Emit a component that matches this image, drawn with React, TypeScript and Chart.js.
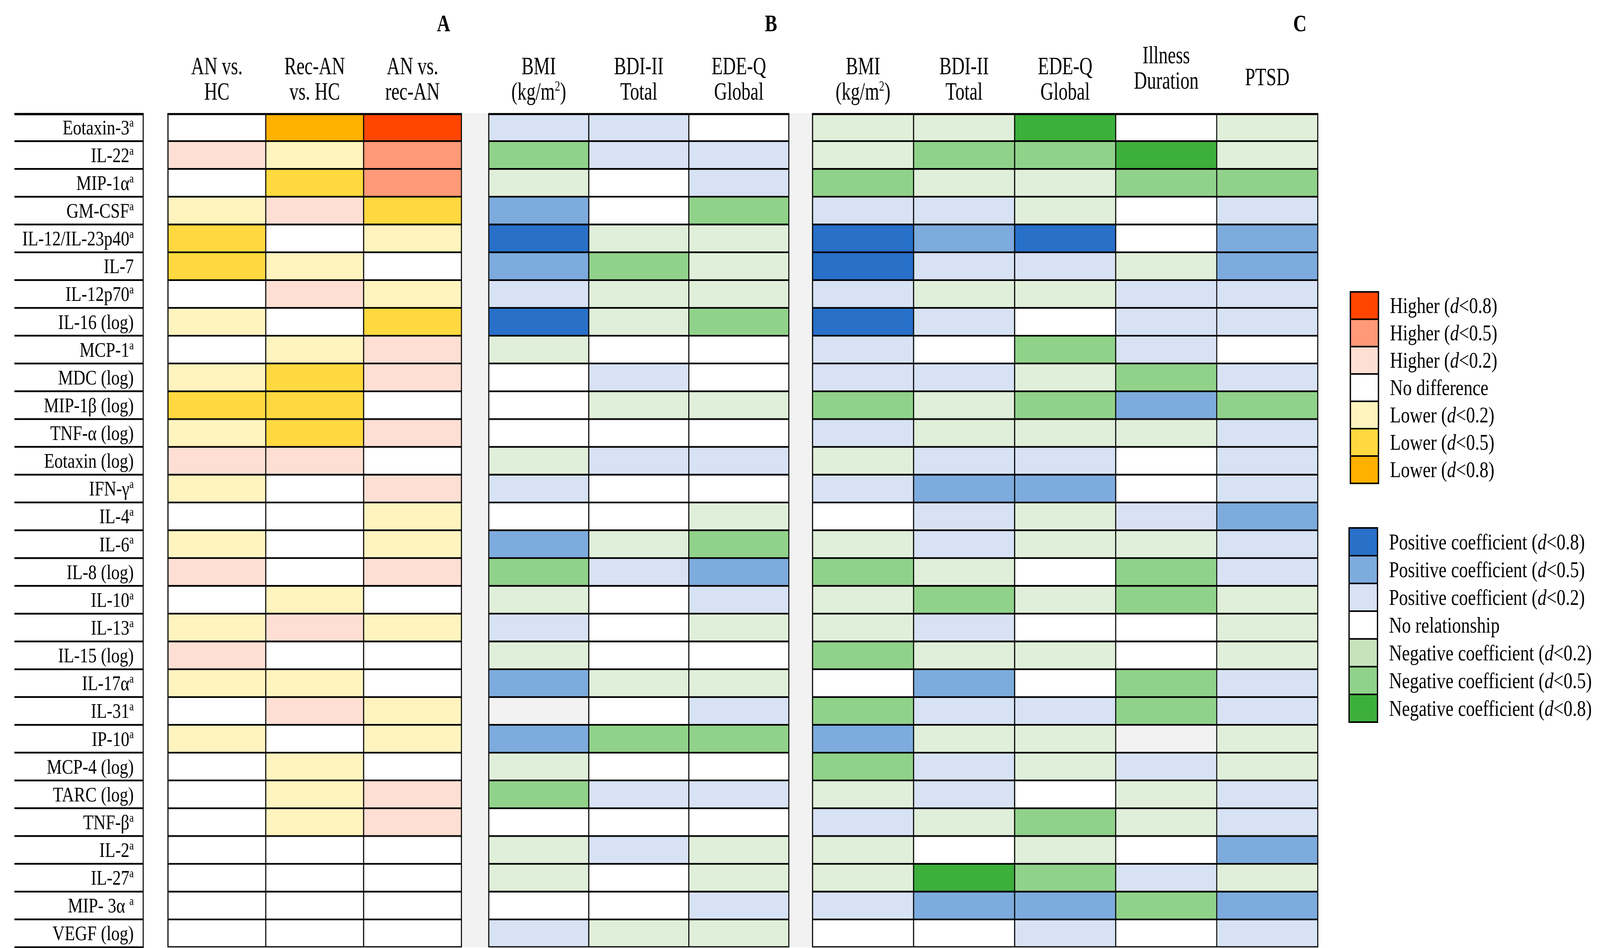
import React, { useEffect, useRef, useState } from "react";
import { Chart, registerables } from "chart.js";

Chart.register(...registerables);

// ---------- DATA ----------
const rowLabels = [
  "Eotaxin-3^a", "IL-22^a", "MIP-1α^a", "GM-CSF^a", "IL-12/IL-23p40^a", "IL-7", "IL-12p70^a",
  "IL-16 (log)", "MCP-1^a", "MDC (log)", "MIP-1β (log)", "TNF-α (log)", "Eotaxin (log)", "IFN-γ^a",
  "IL-4^a", "IL-6^a", "IL-8 (log)", "IL-10^a", "IL-13^a", "IL-15 (log)", "IL-17α^a", "IL-31^a",
  "IP-10^a", "MCP-4 (log)", "TARC (log)", "TNF-β^a", "IL-2^a", "IL-27^a", "MIP- 3α ^a", "VEGF (log)",
];

const panelLetters = ["A", "B", "C"];

const headersA = ["AN vs.\nHC", "Rec-AN\nvs. HC", "AN vs.\nrec-AN"];
const headersB = ["BMI\n(kg/m^2)", "BDI-II\nTotal", "EDE-Q\nGlobal"];
const headersC = ["BMI\n(kg/m^2)", "BDI-II\nTotal", "EDE-Q\nGlobal", "Illness\nDuration", "PTSD"];

// Panel A: group differences. 3/2/1 = Higher (d<0.8/0.5/0.2), 0 = none, -1/-2/-3 = Lower (d<0.2/0.5/0.8)
const anVsHc = [0, 1, 0, -1, -2, -2, 0, -1, 0, -1, -2, -1, 1, -1, 0, -1, 1, 0, -1, 1, -1, 0, -1, 0, 0, 0, 0, 0, 0, 0];
const recAnVsHc = [-3, -1, -2, 1, 0, -1, 1, 0, -1, -2, -2, -2, 1, 0, 0, 0, 0, -1, 1, 0, -1, 1, 0, -1, -1, -1, 0, 0, 0, 0];
const anVsRecAn = [3, 2, 2, -2, -1, 0, -1, -2, 1, 1, 0, 1, 0, 1, -1, -1, 1, 0, -1, 0, 0, -1, -1, 0, 1, 1, 0, 0, 0, 0];

// Panels B and C: 3/2/1 = Positive coefficient, -1/-2/-3 = Negative coefficient, null = not available
const bBmi = [1, -2, -1, 2, 3, 2, 1, 3, -1, 0, 0, 0, -1, 1, 0, 2, -2, -1, 1, -1, 2, null, 2, -1, -2, 0, -1, -1, 0, 1];
const bBdi = [1, 1, 0, 0, -1, -2, -1, -1, 0, 1, -1, 0, 1, 0, 0, -1, 1, 0, 0, 0, -1, 0, -2, 0, 1, 0, 1, 0, 0, -1];
const bEdeq = [0, 1, 1, -2, -1, -1, -1, -2, 0, 0, -1, 0, 1, 0, -1, -2, 2, 1, -1, 0, -1, 1, -2, 0, 1, 0, -1, -1, 1, -1];

const cBmi = [-1, -1, -2, 1, 3, 3, 1, 3, 1, 1, -2, 1, -1, 1, 0, -1, -2, -1, -1, -2, 0, -2, 2, -2, -1, 1, -1, -1, 1, 0];
const cBdi = [-1, -2, -1, 1, 2, 1, -1, 1, 0, 1, -1, -1, 1, 2, 1, 1, -1, -2, 1, -1, 2, 1, -1, 1, 1, -1, 0, -3, 2, 0];
const cEdeq = [-3, -2, -1, -1, 3, 1, -1, 0, -2, -1, -2, -1, 1, 2, -1, -1, 0, -1, 0, -1, 0, 1, -1, -1, 0, -2, -1, -2, 2, 1];
const cIllness = [0, -3, -2, 0, 0, -1, 1, 1, 1, -2, 2, -1, 0, 0, 1, -1, -2, -2, 0, 0, -2, -2, null, 1, -1, -1, 0, 1, -2, 0];
const cPtsd = [-1, -1, -2, 1, 2, 2, 1, 1, 0, 1, -2, 1, 1, 1, 2, 1, 1, -1, -1, -1, 1, 1, -1, -1, 1, 1, 2, -1, 2, 1];

const legendCodes = [3, 2, 1, 0, -1, -2, -3];
const diffLegendLabels = [
  "Higher (*d*<0.8)", "Higher (*d*<0.5)", "Higher (*d*<0.2)", "No difference",
  "Lower (*d*<0.2)", "Lower (*d*<0.5)", "Lower (*d*<0.8)",
];
const corrLegendLabels = [
  "Positive coefficient (*d*<0.8)", "Positive coefficient (*d*<0.5)", "Positive coefficient (*d*<0.2)",
  "No relationship", "Negative coefficient (*d*<0.2)", "Negative coefficient (*d*<0.5)", "Negative coefficient (*d*<0.8)",
];

// ---------- STYLES / LAYOUT ----------
const diffColors: Record<string, string> = {
  "3": "#FF4500", "2": "#FF9977", "1": "#FFDFD3", "0": "#FFFFFF",
  "-1": "#FFF3BE", "-2": "#FFD93F", "-3": "#FFB100",
};
const corrColors: Record<string, string> = {
  "3": "#2870C8", "2": "#7DABDD", "1": "#D7E2F4", "0": "#FFFFFF",
  "-1": "#E0EFD9", "-2": "#91D28A", "-3": "#3DAF3B",
};
const NA_COLOR = "#F2F2F2";
const GAP_GRAY = "#F2F2F2";
const FAMILY = '"Liberation Serif", "Times New Roman", serif';

// Design space (reference pixels); the canvas is scaled to the real viewport.
const W = 5012;
const H = 2426;
const X_MAX = 11.435;
const panelStart = [0, 3.19, 6.41];
const panelColW = [0.973, 0.995, 1.005];
const panelCols = [3, 3, 5];
const headerShift = [0, 0, 0, 0, 0, 0, 0, 0, 0, -28, 0];

const columns = [
  { panel: 0, idx: 0, header: headersA[0], values: anVsHc },
  { panel: 0, idx: 1, header: headersA[1], values: recAnVsHc },
  { panel: 0, idx: 2, header: headersA[2], values: anVsRecAn },
  { panel: 1, idx: 0, header: headersB[0], values: bBmi },
  { panel: 1, idx: 1, header: headersB[1], values: bBdi },
  { panel: 1, idx: 2, header: headersB[2], values: bEdeq },
  { panel: 2, idx: 0, header: headersC[0], values: cBmi },
  { panel: 2, idx: 1, header: headersC[1], values: cBdi },
  { panel: 2, idx: 2, header: headersC[2], values: cEdeq },
  { panel: 2, idx: 3, header: headersC[3], values: cIllness },
  { panel: 2, idx: 4, header: headersC[4], values: cPtsd },
];

function colorFor(panel: number, v: number | null) {
  if (v === null || v === undefined) return NA_COLOR;
  return (panel === 0 ? diffColors : corrColors)[String(v)];
}

const colStart = (p: number, i: number) => panelStart[p] + i * panelColW[p];
const panelEnd = (p: number) => panelStart[p] + panelCols[p] * panelColW[p];

type Seg = { t: string; sup?: boolean; it?: boolean };
function parseRich(s: string): Seg[] {
  const segs: Seg[] = [];
  let buf = "";
  let i = 0;
  while (i < s.length) {
    const c = s[i];
    if (c === "^") {
      if (buf) { segs.push({ t: buf }); buf = ""; }
      segs.push({ t: s[i + 1], sup: true });
      i += 2;
      continue;
    }
    if (c === "*") {
      const j = s.indexOf("*", i + 1);
      if (buf) { segs.push({ t: buf }); buf = ""; }
      segs.push({ t: s.slice(i + 1, j), it: true });
      i = j + 1;
      continue;
    }
    buf += c;
    i++;
  }
  if (buf) segs.push({ t: buf });
  return segs;
}

function drawRich(
  ctx: CanvasRenderingContext2D, s: string, x: number, y: number, size: number,
  align: "left" | "right" | "center", scaleY = 1, bold = false,
) {
  const segs = parseRich(s);
  const fontOf = (sg: Seg) =>
    `${sg.it ? "italic " : ""}${bold ? "bold " : ""}${sg.sup ? Math.round(size * 0.58) : size}px ${FAMILY}`;
  let w = 0;
  const ws = segs.map((sg) => {
    ctx.font = fontOf(sg);
    const m = ctx.measureText(sg.t).width;
    w += m;
    return m;
  });
  let cx = align === "left" ? x : align === "right" ? x - w : x - w / 2;
  ctx.save();
  ctx.translate(0, y);
  ctx.scale(1, scaleY);
  ctx.textAlign = "left";
  ctx.textBaseline = "alphabetic";
  ctx.fillStyle = "#000";
  segs.forEach((sg, k) => {
    ctx.font = fontOf(sg);
    ctx.fillText(sg.t, cx, sg.sup ? -size * 0.36 : 0);
    cx += ws[k];
  });
  ctx.restore();
}

const decorPlugin = {
  id: "decor",
  beforeDatasetsDraw(chart: any) {
    const { ctx, chartArea, scales } = chart;
    const x = scales.x;
    ctx.save();
    ctx.fillStyle = GAP_GRAY;
    for (let p = 0; p < 2; p++) {
      const xa = x.getPixelForValue(panelEnd(p));
      const xb = x.getPixelForValue(panelStart[p + 1]);
      ctx.fillRect(xa, chartArea.top, xb - xa, chartArea.bottom - chartArea.top);
    }
    ctx.restore();
  },
  afterDatasetsDraw(chart: any) {
    const { ctx, chartArea, scales } = chart;
    const x = scales.x;
    const y = scales.y;
    const n = rowLabels.length;
    const rowH = (chartArea.bottom - chartArea.top) / n;

    ctx.save();
    // panel outlines
    ctx.strokeStyle = "#000";
    ctx.lineWidth = 3;
    for (let p = 0; p < 3; p++) {
      const xa = x.getPixelForValue(panelStart[p]);
      const xb = x.getPixelForValue(panelEnd(p));
      ctx.strokeRect(xa, chartArea.top + 1, xb - xa, chartArea.bottom - chartArea.top - 2);
    }
    ctx.lineWidth = 5;
    ctx.beginPath();
    for (let p = 0; p < 3; p++) {
      const xa = x.getPixelForValue(panelStart[p]);
      const xb = x.getPixelForValue(panelEnd(p));
      ctx.moveTo(xa - 1.5, chartArea.top + 2);
      ctx.lineTo(xb + 1.5, chartArea.top + 2);
    }
    ctx.stroke();

    // row label box
    const boxL = 45;
    const boxR = 450;
    for (let i = 0; i <= n; i++) {
      const yy = i === 0 ? chartArea.top + 2 : y.getPixelForValue(i - 1) + rowH / 2;
      ctx.lineWidth = i === 0 ? 6 : 4.5;
      ctx.beginPath();
      ctx.moveTo(boxL, yy);
      ctx.lineTo(boxR, yy);
      ctx.stroke();
    }
    ctx.lineWidth = 3;
    ctx.beginPath();
    ctx.moveTo(boxR - 1.5, chartArea.top);
    ctx.lineTo(boxR - 1.5, chartArea.bottom);
    ctx.stroke();

    // row labels
    rowLabels.forEach((lab, i) => {
      const cy = y.getPixelForValue(i);
      drawRich(ctx, lab, 419, cy + 18, 53, "right");
    });

    // column headers
    columns.forEach((col, k) => {
      const cx = x.getPixelForValue(colStart(col.panel, col.idx) + panelColW[col.panel] / 2);
      const lines = col.header.split("\n");
      const shift = headerShift[k];
      if (lines.length === 1) {
        drawRich(ctx, lines[0], cx, 218 + shift, 57, "center", 1.1);
      } else {
        lines.forEach((ln, li) => drawRich(ctx, ln, cx, 190 + li * 65 + shift, 57, "center", 1.1));
      }
    });

    // panel letters
    panelLetters.forEach((L, p) => {
      const xr = x.getPixelForValue(panelEnd(p));
      drawRich(ctx, L, xr - 56, 80, 58, "center", 1.05, true);
    });

    // legends
    const drawLegend = (left: number, top: number, w: number, h: number, pal: Record<string, string>, labels: string[], overrides: Record<string, string>) => {
      legendCodes.forEach((c, i) => {
        ctx.fillStyle = overrides[String(c)] || pal[String(c)];
        ctx.fillRect(left, top + i * h, w, h);
      });
      ctx.strokeStyle = "#000";
      ctx.lineWidth = 4;
      legendCodes.forEach((c, i) => {
        ctx.strokeRect(left, top + i * h, w, h);
      });
      labels.forEach((lab, i) => {
        drawRich(ctx, lab, left + w + 36, top + i * h + h / 2 + 19, 56, "left");
      });
    };
    drawLegend(4230, 747, 88, 70, diffColors, diffLegendLabels, {});
    drawLegend(4226, 1351, 89, 71, corrColors, corrLegendLabels, { "-1": "#C6E3BC" });

    ctx.restore();
  },
};

export default function App() {
  const ref = useRef<HTMLCanvasElement>(null);
  const [view] = useState(() => ({
    w: typeof window !== "undefined" ? window.innerWidth || W : W,
    h: typeof window !== "undefined" ? window.innerHeight || H : H,
  }));

  useEffect(() => {
    document.body.style.margin = "0";
    document.body.style.overflow = "hidden";
    const canvas = ref.current!;
    const datasets = columns.map((col) => ({
      label: col.header.replace("\n", " "),
      data: col.values.map(() => [colStart(col.panel, col.idx), colStart(col.panel, col.idx) + panelColW[col.panel]]),
      backgroundColor: col.values.map((v) => colorFor(col.panel, v as number | null)),
      borderColor: "#000000",
      borderWidth: { top: 2.5, bottom: 2.5, left: 2, right: 2 },
      borderSkipped: false,
      grouped: false,
      barPercentage: 1,
      categoryPercentage: 1,
    }));

    const chart = new Chart(canvas, {
      type: "bar",
      data: { labels: rowLabels.map((l) => l.replace("^", "")), datasets: datasets as any },
      options: {
        responsive: false,
        animation: false,
        devicePixelRatio: 1,
        indexAxis: "y",
        layout: { padding: { left: 526, right: W - 4128, top: 290, bottom: 2 } },
        plugins: { legend: { display: false }, tooltip: { enabled: false } },
        scales: {
          x: { type: "linear", min: 0, max: X_MAX, display: false },
          y: { type: "category", display: false, offset: true },
        },
      },
      plugins: [decorPlugin as any],
    });
    return () => chart.destroy();
  }, []);

  const sx = view.w / W;
  const sy = view.h / H;

  return (
    <div style={{ position: "fixed", left: 0, top: 0, width: view.w, height: view.h, background: "#fff", overflow: "hidden" }}>
      <canvas
        ref={ref}
        width={W}
        height={H}
        style={{
          width: `${W}px`,
          height: `${H}px`,
          display: "block",
          transformOrigin: "0 0",
          transform: `scale(${sx}, ${sy})`,
        }}
      />
    </div>
  );
}
